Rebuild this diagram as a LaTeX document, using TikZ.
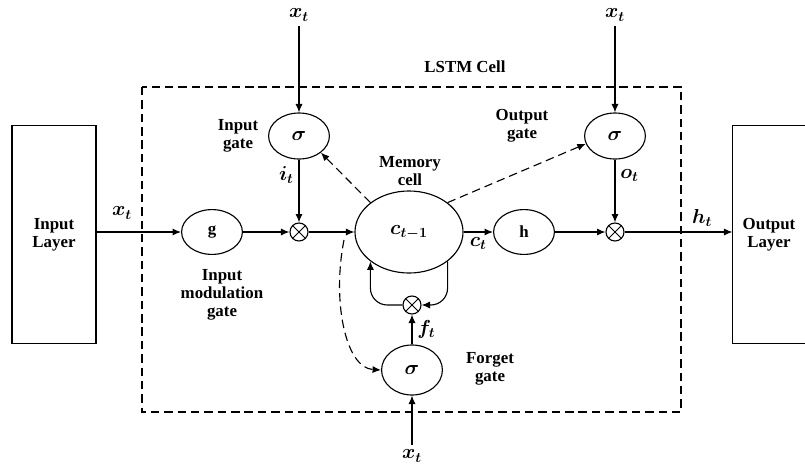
\documentclass[tikz,border=0pt]{standalone}
\usepackage{fontspec}
\setmainfont{Liberation Serif}
\usetikzlibrary{arrows.meta,shapes.geometric}

\begin{document}
\begin{tikzpicture}[>={Latex[length=6pt,width=5pt]},x=0.025cm,y=-0.025cm,
  line width=0.8pt,font=\fontsize{12}{13}\selectfont\bfseries,
  unit/.style={ellipse,draw,inner sep=0pt,minimum width=1.52cm,minimum height=1.12cm},
  mult/.style={circle,draw,inner sep=0pt,minimum size=0.45cm,
    path picture={\draw[line width=0.7pt] (path picture bounding box.south west)--(path picture bounding box.north east)
      (path picture bounding box.north west)--(path picture bounding box.south east);}},
  lbl/.style={align=center},
  mth/.style={font=\fontsize{14}{15}\selectfont\boldmath},
  dsh/.style={dash pattern=on 6pt off 3.5pt}]
  \useasboundingbox (0,0) rectangle (805,468);
  \draw[dsh] (142,87) rectangle (681,412);
  \node[lbl] (cell) at (465,67) {LSTM Cell};
  \node[draw,lbl,minimum width=2.1cm,minimum height=5.43cm] (inl) at (54,234.5) {Input\\Layer};
  \node[lbl,minimum width=1.8cm,minimum height=5.43cm] (outl) at (769,234.5) {Output\\Layer};
  \draw (outl.north east)--(outl.north west)--(outl.south west)--(outl.south east);

  \node[unit] (g) at (212,232) {g};
  \node[unit,mth,minimum width=2.7cm,minimum height=2.05cm] (mem) at (409,232) {$c_{t-1}$};
  \node[unit] (h) at (524,232) {h};
  \node[unit,mth,minimum height=1.15cm] (ig) at (299,136) {$\sigma$};
  \node[unit,mth,minimum height=1.15cm] (og) at (615,136) {$\sigma$};
  \node[unit,mth,minimum height=1.25cm] (fg) at (412,370) {$\sigma$};
  \node[mult] (m1) at (299,232) {};
  \node[mult] (m2) at (615,232) {};
  \node[mult] (m3) at (412,305) {};

  \node[mth] (xi) at (299,15) {$x_t$};
  \node[mth] (xo) at (615,15) {$x_t$};
  \node[mth] (xf) at (412,456) {$x_t$};
  \node[mth] (xin) at (122,213) {$x_t$};
  \coordinate (fsrc) at (344,240);

  \node[lbl] (iglbl) at (238,136) {Input\\gate};
  \node[lbl] (oglbl) at (522,126) {Output\\gate};
  \node[lbl] (fglbl) at (490,369) {Forget\\gate};
  \node[lbl] (memlbl) at (410,171) {Memory\\cell};
  \node[lbl] (glbl) at (222,295) {Input\\modulation\\gate};

  \draw[->] (g -| inl.east) -- (g);
  \draw[->] (g) -- (m1);
  \draw[->] (xi) -- (ig);
  \draw[->] (ig) -- node[mth,pos=0.25,left] (it) {$i_t$} (m1);
  \draw[->] (m1) -- (mem);
  \draw[->] (mem) -- node[mth,below] (ct) {$c_t$} (h);
  \draw[->] (h) -- (m2);
  \draw[->] (xo) -- (og);
  \draw[->] (og) -- node[mth,pos=0.25,right] (ot) {$o_t$} (m2);
  \draw[->] (m2) -- node[mth,pos=0.72,above] (ht) {$h_t$} (outl.west |- m2);
  \draw[->] (xf) -- (fg);
  \draw[->] (fg) -- node[mth,right] (ft) {$f_t$} (m3);
  \draw[->,rounded corners=12pt] (mem.south east) |- (m3.east);
  \draw[->,rounded corners=12pt] (m3.west) -| (mem.south west);
  \draw[->,dsh] (mem.north west) -- (ig.south east);
  \draw[->,dsh] (mem.north east) -- (og.195);
  \draw[->,dsh] (fsrc) .. controls (332,300) and (345,368) .. (fg.west);
\end{tikzpicture}
\end{document}
